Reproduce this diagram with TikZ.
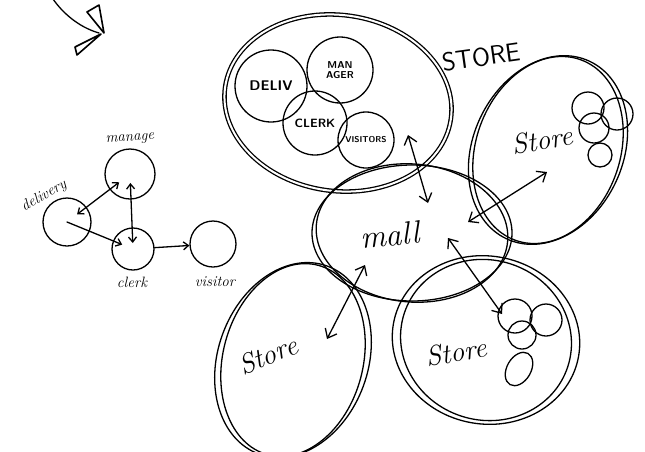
\documentclass[tikz,border=0pt]{standalone}
\usetikzlibrary{shapes.geometric,arrows.meta}
\begin{document}
\begin{tikzpicture}[x=1pt,y=-1pt,line width=1.3pt,line cap=round,line join=round,
  circ/.style={circle,draw,inner sep=0pt},
  oval/.style={ellipse,draw,inner sep=0pt},
  sarr/.style={-{Straight Barb[length=5pt,width=8pt]}},
  sarrb/.style={{Straight Barb[length=5pt,width=8pt]}-{Straight Barb[length=5pt,width=8pt]}},
  barrb/.style={{Straight Barb[length=8pt,width=13pt]}-{Straight Barb[length=8pt,width=13pt]}},
  lbl/.style={font=\itshape\fontsize{15}{15}\selectfont,inner sep=0pt},
  caplbl/.style={font=\sffamily\bfseries\fontsize{12}{12}\selectfont,inner sep=0pt,align=center},
  big/.style={font=\itshape\fontsize{28}{28}\selectfont,inner sep=0pt}]
\useasboundingbox (0,0) rectangle (645,451);
\clip (0,0) rectangle (645,451);

% top-left arrow
\coordinate (c0) at (53,-1);
\coordinate (c1) at (99,33);
\draw (c0) .. controls (62,12) and (78,27) .. (c1);
\draw[line width=1.6pt] (87,12) -- (99,5) -- (104,33) -- cycle;
\draw[line width=1.6pt] (75,47) -- (77,55) -- (101,34) -- cycle;

% small graph
\node[circ,minimum size=50] (mg) at (130,174) {};
\node[circ,minimum size=48] (dl) at (67,222) {};
\node[circ,minimum size=42] (ck) at (133,249) {};
\node[circ,minimum size=46] (vs) at (213,244) {};
\node[lbl,rotate=3] (mgl) at (130,139) {manage};
\node[lbl,rotate=30] (dll) at (44,196) {delivery};
\node[lbl] (ckl) at (132,282) {clerk};
\node[lbl] (vsl) at (215,282) {visitor};
\draw[sarrb,shorten <=-12pt,shorten >=-12pt] (dl) -- (mg);
\draw[sarr,shorten >=-10pt] (dl.center) -- (ck);
\draw[sarrb,shorten <=9pt,shorten >=6pt] (mg.center) -- (ck.center);
\draw[sarr] (ck) -- (vs);

% big store
\node[oval,minimum width=228,minimum height=176,rotate=-8,double,double distance=2pt] (bs) at (338,103) {};
\node[font=\sffamily\fontsize{26}{26}\selectfont,rotate=8,inner sep=0pt] (bsl) at (481,57) {STORE};
\node[circ,minimum size=72,caplbl,font=\sffamily\bfseries\fontsize{14}{14}\selectfont] (idl) at (271,86) {DELIV};
\node[circ,minimum size=66,caplbl,font=\sffamily\bfseries\fontsize{10}{10}\selectfont] (imn) at (340,70) {MAN\\AGER};
\node[circ,minimum size=64,caplbl] (ick) at (315,123) {CLERK};
\node[circ,minimum size=56,caplbl,font=\sffamily\bfseries\fontsize{8.5}{8.5}\selectfont] (ivs) at (366,140) {VISITORS};

% mall
\node[oval,minimum width=200,minimum height=136] (mall) at (412,233) {};
\draw[rotate around={-5:(mall.center)}] (mall.center) ellipse (96 and 69);
\node[big,font=\itshape\fontsize{32}{32}\selectfont,rotate=5] (malll) at (390,235) {mall};

% right store
\node[oval,minimum width=150,minimum height=196,rotate=-25] (rs) at (548,150) {};
\draw[rotate around={-20:(rs.center)}] (rs.center) ellipse (72 and 96);
\node[big,rotate=10] (rsl) at (542,140) {Store};
\node[circ,minimum size=32] (r1) at (588,108) {};
\node[circ,minimum size=32] (r2) at (617,114) {};
\node[circ,minimum size=30] (r3) at (594,128) {};
\node[circ,minimum size=24] (r4) at (600,155) {};

% bottom-left store
\node[oval,minimum width=150,minimum height=200,rotate=-20] (bl) at (293,360) {};
\draw[rotate around={-15:(bl.center)}] (bl.center) ellipse (70 and 98);
\node[big,rotate=22] (bll) at (268,355) {Store};

% bottom-right store
\node[oval,minimum width=188,minimum height=168,rotate=-10] (br) at (486,340) {};
\draw[rotate around={-18:(br.center)}] (br.center) ellipse (86 and 80);
\node[big,rotate=10] (brl) at (456,352) {Store};
\node[circ,minimum size=34] (b1) at (515,316) {};
\node[circ,minimum size=32] (b2) at (546,320) {};
\node[circ,minimum size=28] (b3) at (522,335) {};
\node[oval,minimum width=24,minimum height=36,rotate=-30] (b4) at (519,369) {};

% arrows to mall
\coordinate (a1) at (408,135);
\coordinate (m1) at (428,203);
\coordinate (a2) at (547,172);
\coordinate (m2) at (468,222);
\coordinate (a3) at (502,314);
\coordinate (m3) at (448,238);
\coordinate (a4) at (327,339);
\coordinate (m4) at (365,265);
\draw[barrb] (a1) -- (m1);
\draw[barrb] (a2) -- (m2);
\draw[barrb] (a3) -- (m3);
\draw[barrb] (a4) -- (m4);
\end{tikzpicture}
\end{document}
